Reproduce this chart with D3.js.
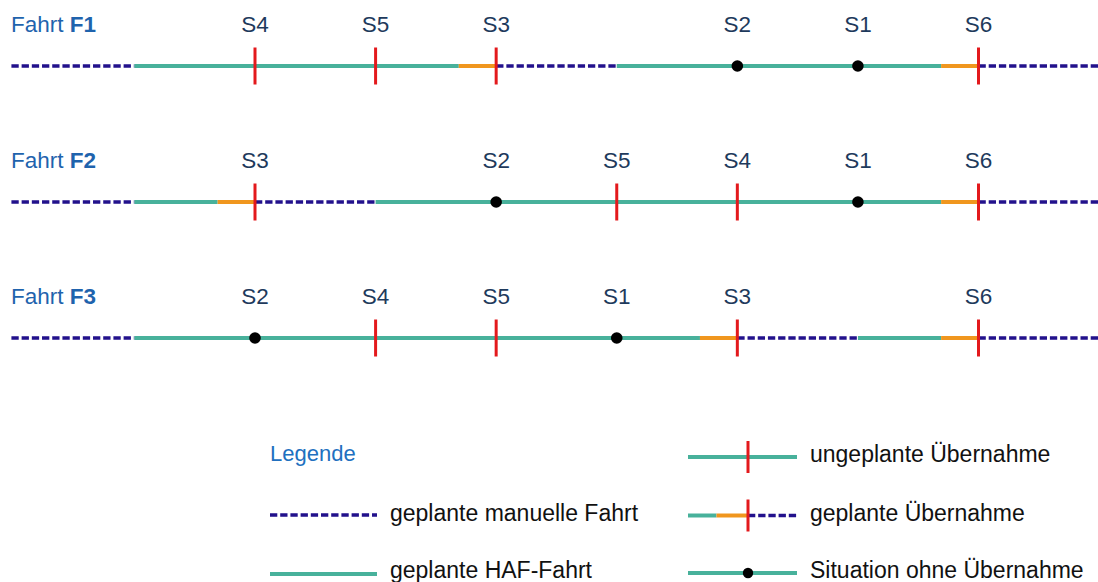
<!DOCTYPE html>
<html>
<head>
<meta charset="utf-8">
<script src="https://cdn.jsdelivr.net/npm/d3@7"></script>
<style>
  html, body { margin: 0; padding: 0; background: #fff; }
  svg { display: block; font-family: "Liberation Sans", Arial, sans-serif; }
</style>
</head>
<body>
<svg id="chart" width="1098" height="582"></svg>
<script>
// ---- data (positions in station slots) ----
const rows = ["F1", "F2", "F3"];
// segments: [type, from, to]; type: manual | haf | planned (orange approach before planned takeover)
const segmentsF1 = [["manual", -1.02, 0], ["haf", 0, 2.69], ["planned", 2.69, 3], ["manual", 3, 4], ["haf", 4, 6.69], ["planned", 6.69, 7], ["manual", 7, 8.05]];
const segmentsF2 = [["manual", -1.02, 0], ["haf", 0, 0.69], ["planned", 0.69, 1], ["manual", 1, 2], ["haf", 2, 6.69], ["planned", 6.69, 7], ["manual", 7, 8.05]];
const segmentsF3 = [["manual", -1.02, 0], ["haf", 0, 4.69], ["planned", 4.69, 5], ["manual", 5, 6], ["haf", 6, 6.69], ["planned", 6.69, 7], ["manual", 7, 8.05]];
// events: [station, slot, kind]; kind: tick (Übernahme) | dot (Situation ohne Übernahme)
const eventsF1 = [["S4", 1, "tick"], ["S5", 2, "tick"], ["S3", 3, "tick"], ["S2", 5, "dot"], ["S1", 6, "dot"], ["S6", 7, "tick"]];
const eventsF2 = [["S3", 1, "tick"], ["S2", 3, "dot"], ["S5", 4, "tick"], ["S4", 5, "tick"], ["S1", 6, "dot"], ["S6", 7, "tick"]];
const eventsF3 = [["S2", 1, "dot"], ["S4", 2, "tick"], ["S5", 3, "tick"], ["S1", 4, "dot"], ["S3", 5, "tick"], ["S6", 7, "tick"]];
const legendTitle = "Legende";
const legendLeft = ["geplante manuelle Fahrt", "geplante HAF-Fahrt"];
const legendRight = ["ungeplante Übernahme", "geplante Übernahme", "Situation ohne Übernahme"];

const segmentsByRow = { F1: segmentsF1, F2: segmentsF2, F3: segmentsF3 };
const eventsByRow = { F1: eventsF1, F2: eventsF2, F3: eventsF3 };

// ---- styles ----
const C = {
  teal: "#48b19b", orange: "#f0961e", red: "#e3191c", navy: "#22118c",
  station: "#1e3a5c", fahrt: "#1f63ad", legend: "#2170bf", text: "#111111", dot: "#000000"
};
const FS = 22.5;
const LFS = 23;

const svg = d3.select("#chart");
const x = d3.scaleLinear().domain([1, 7]).range([255, 978.5]);
const y = d3.scalePoint().domain(rows).range([66, 338]);

function drawSegment(g, type, x1, x2, yy) {
  const line = g.append("line").attr("x1", x1).attr("x2", x2).attr("y1", yy).attr("y2", yy);
  if (type === "manual") {
    line.attr("stroke", C.navy).attr("stroke-width", 3.5).attr("stroke-dasharray", "7.3,2.9");
  } else if (type === "haf") {
    line.attr("stroke", C.teal).attr("stroke-width", 4);
  } else {
    line.attr("stroke", C.orange).attr("stroke-width", 4);
  }
}
function drawTick(g, xx, yy, half) {
  g.append("line").attr("x1", xx).attr("x2", xx).attr("y1", yy - half).attr("y2", yy + half)
    .attr("stroke", C.red).attr("stroke-width", 3);
}
function drawDot(g, xx, yy) {
  g.append("circle").attr("cx", xx).attr("cy", yy).attr("r", 5.8).attr("fill", C.dot);
}

rows.forEach(r => {
  const g = svg.append("g").attr("class", "row-" + r);
  const yy = y(r);
  // label
  const t = g.append("text").attr("x", 11).attr("y", yy - 34.5).attr("font-size", FS).attr("fill", C.fahrt);
  t.append("tspan").text("Fahrt ");
  t.append("tspan").attr("font-weight", "bold").text(r);
  // segments
  segmentsByRow[r].forEach(([type, a, b]) => drawSegment(g, type, x(a), x(b), yy));
  // events
  eventsByRow[r].forEach(([st, s, kind]) => {
    g.append("text").attr("x", x(s)).attr("y", yy - 34.5).attr("text-anchor", "middle")
      .attr("font-size", FS).attr("fill", C.station).text(st);
    if (kind === "tick") drawTick(g, x(s), yy, 18.5);
    else drawDot(g, x(s), yy);
  });
});

// ---- legend ----
const lg = svg.append("g").attr("class", "legend");
lg.append("text").attr("x", 270).attr("y", 461).attr("font-size", 22).attr("fill", C.legend).text(legendTitle);

const leftY = [515, 574];
drawSegment(lg, "manual", 270, 377, leftY[0]);
drawSegment(lg, "haf", 270, 377, leftY[1]);
legendLeft.forEach((txt, i) => {
  lg.append("text").attr("x", 390).attr("y", leftY[i] + (i === 1 ? 3.5 : 6)).attr("font-size", LFS).attr("fill", C.text).text(txt);
});

const rightY = [457, 515.5, 573];
// ungeplante Übernahme
drawSegment(lg, "haf", 688, 797, rightY[0]);
drawTick(lg, 748, rightY[0], 16);
// geplante Übernahme
drawSegment(lg, "haf", 688, 716.5, rightY[1]);
drawSegment(lg, "planned", 716.5, 748, rightY[1]);
drawSegment(lg, "manual", 748, 797, rightY[1]);
drawTick(lg, 748, rightY[1], 16);
// Situation ohne Übernahme
drawSegment(lg, "haf", 688, 797, rightY[2]);
lg.append("circle").attr("cx", 748).attr("cy", rightY[2]).attr("r", 5.2).attr("fill", C.dot);
legendRight.forEach((txt, i) => {
  lg.append("text").attr("x", 810).attr("y", rightY[i] + 5).attr("font-size", LFS).attr("fill", C.text).text(txt);
});
</script>
</body>
</html>
